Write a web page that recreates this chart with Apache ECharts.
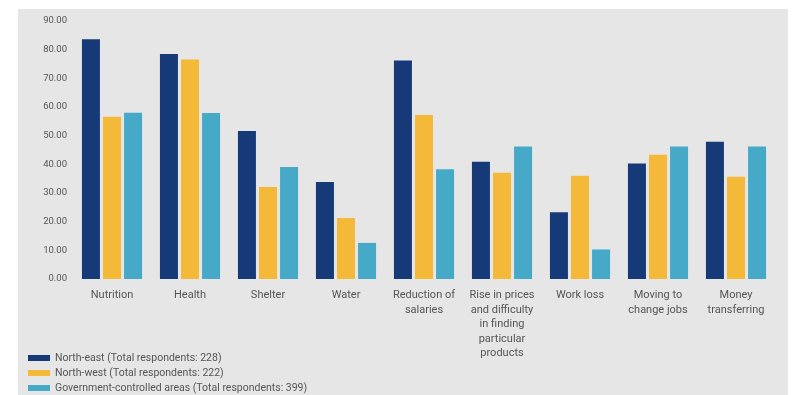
<!DOCTYPE html>
<html>
<head>
<meta charset="utf-8">
<script src="https://cdn.jsdelivr.net/npm/echarts@6/dist/echarts.min.js"></script>
<style>
html,body{margin:0;padding:0;background:#ffffff;}
#chart{width:799px;height:395px;}
</style>
</head>
<body>
<div id="chart"></div>
<script>
var categories = ["Nutrition", "Health", "Shelter", "Water", "Reduction of\nsalaries", "Rise in prices\nand difficulty\nin finding\nparticular\nproducts", "Work loss", "Moving to\nchange jobs", "Money\ntransferring"];
var seriesNames = ["North-east (Total respondents: 228)", "North-west (Total respondents: 222)", "Government-controlled areas (Total respondents: 399)"];
var northEast = [83.6, 78.5, 51.6, 33.8, 76.2, 40.9, 23.3, 40.3, 47.9];
var northWest = [56.6, 76.6, 32.1, 21.3, 57.2, 37.1, 36.0, 43.3, 35.7];
var government = [58.0, 57.9, 39.1, 12.6, 38.3, 46.2, 10.3, 46.2, 46.2];
var colors = ["#163a78", "#f5b93a", "#46a9c8"];

var chart = echarts.init(document.getElementById('chart'), null, {renderer: 'canvas'});
var font = "'Roboto', sans-serif";
function bar(name, data, color) {
  return {name: name, type: 'bar', data: data, barWidth: 18, barGap: '17%',
    itemStyle: {color: color}, animation: false};
}
var legendTops = [352, 367, 382];
var legends = seriesNames.map(function (n, i) {
  return {
    orient: 'vertical', left: 28, top: legendTops[i], itemWidth: 22, itemHeight: 6,
    icon: 'rect', padding: 0,
    textStyle: {fontSize: 10.5, color: '#555', fontFamily: font, lineHeight: 12},
    data: [n]
  };
});
chart.setOption({
  animation: false,
  textStyle: {fontFamily: font},
  graphic: [{type: 'rect', z: -10, silent: true,
    shape: {x: 18, y: 9, width: 770, height: 386}, style: {fill: '#e6e6e6'}}],
  grid: {left: 73, right: 24, top: 21, bottom: 116, containLabel: false},
  legend: legends,
  xAxis: {
    type: 'category', data: categories,
    axisLine: {show: false}, axisTick: {show: false},
    axisLabel: {interval: 0, color: '#555', fontSize: 11, lineHeight: 14.5, margin: 9, fontFamily: font}
  },
  yAxis: {
    type: 'value', min: 0, max: 90, interval: 10,
    splitLine: {show: false}, axisLine: {show: false}, axisTick: {show: false},
    axisLabel: {color: '#555', fontSize: 9.5, margin: 6, fontFamily: font,
      formatter: function (v) { return v.toFixed(2); }}
  },
  series: [
    bar(seriesNames[0], northEast, colors[0]),
    bar(seriesNames[1], northWest, colors[1]),
    bar(seriesNames[2], government, colors[2])
  ]
});
</script>
</body>
</html>
